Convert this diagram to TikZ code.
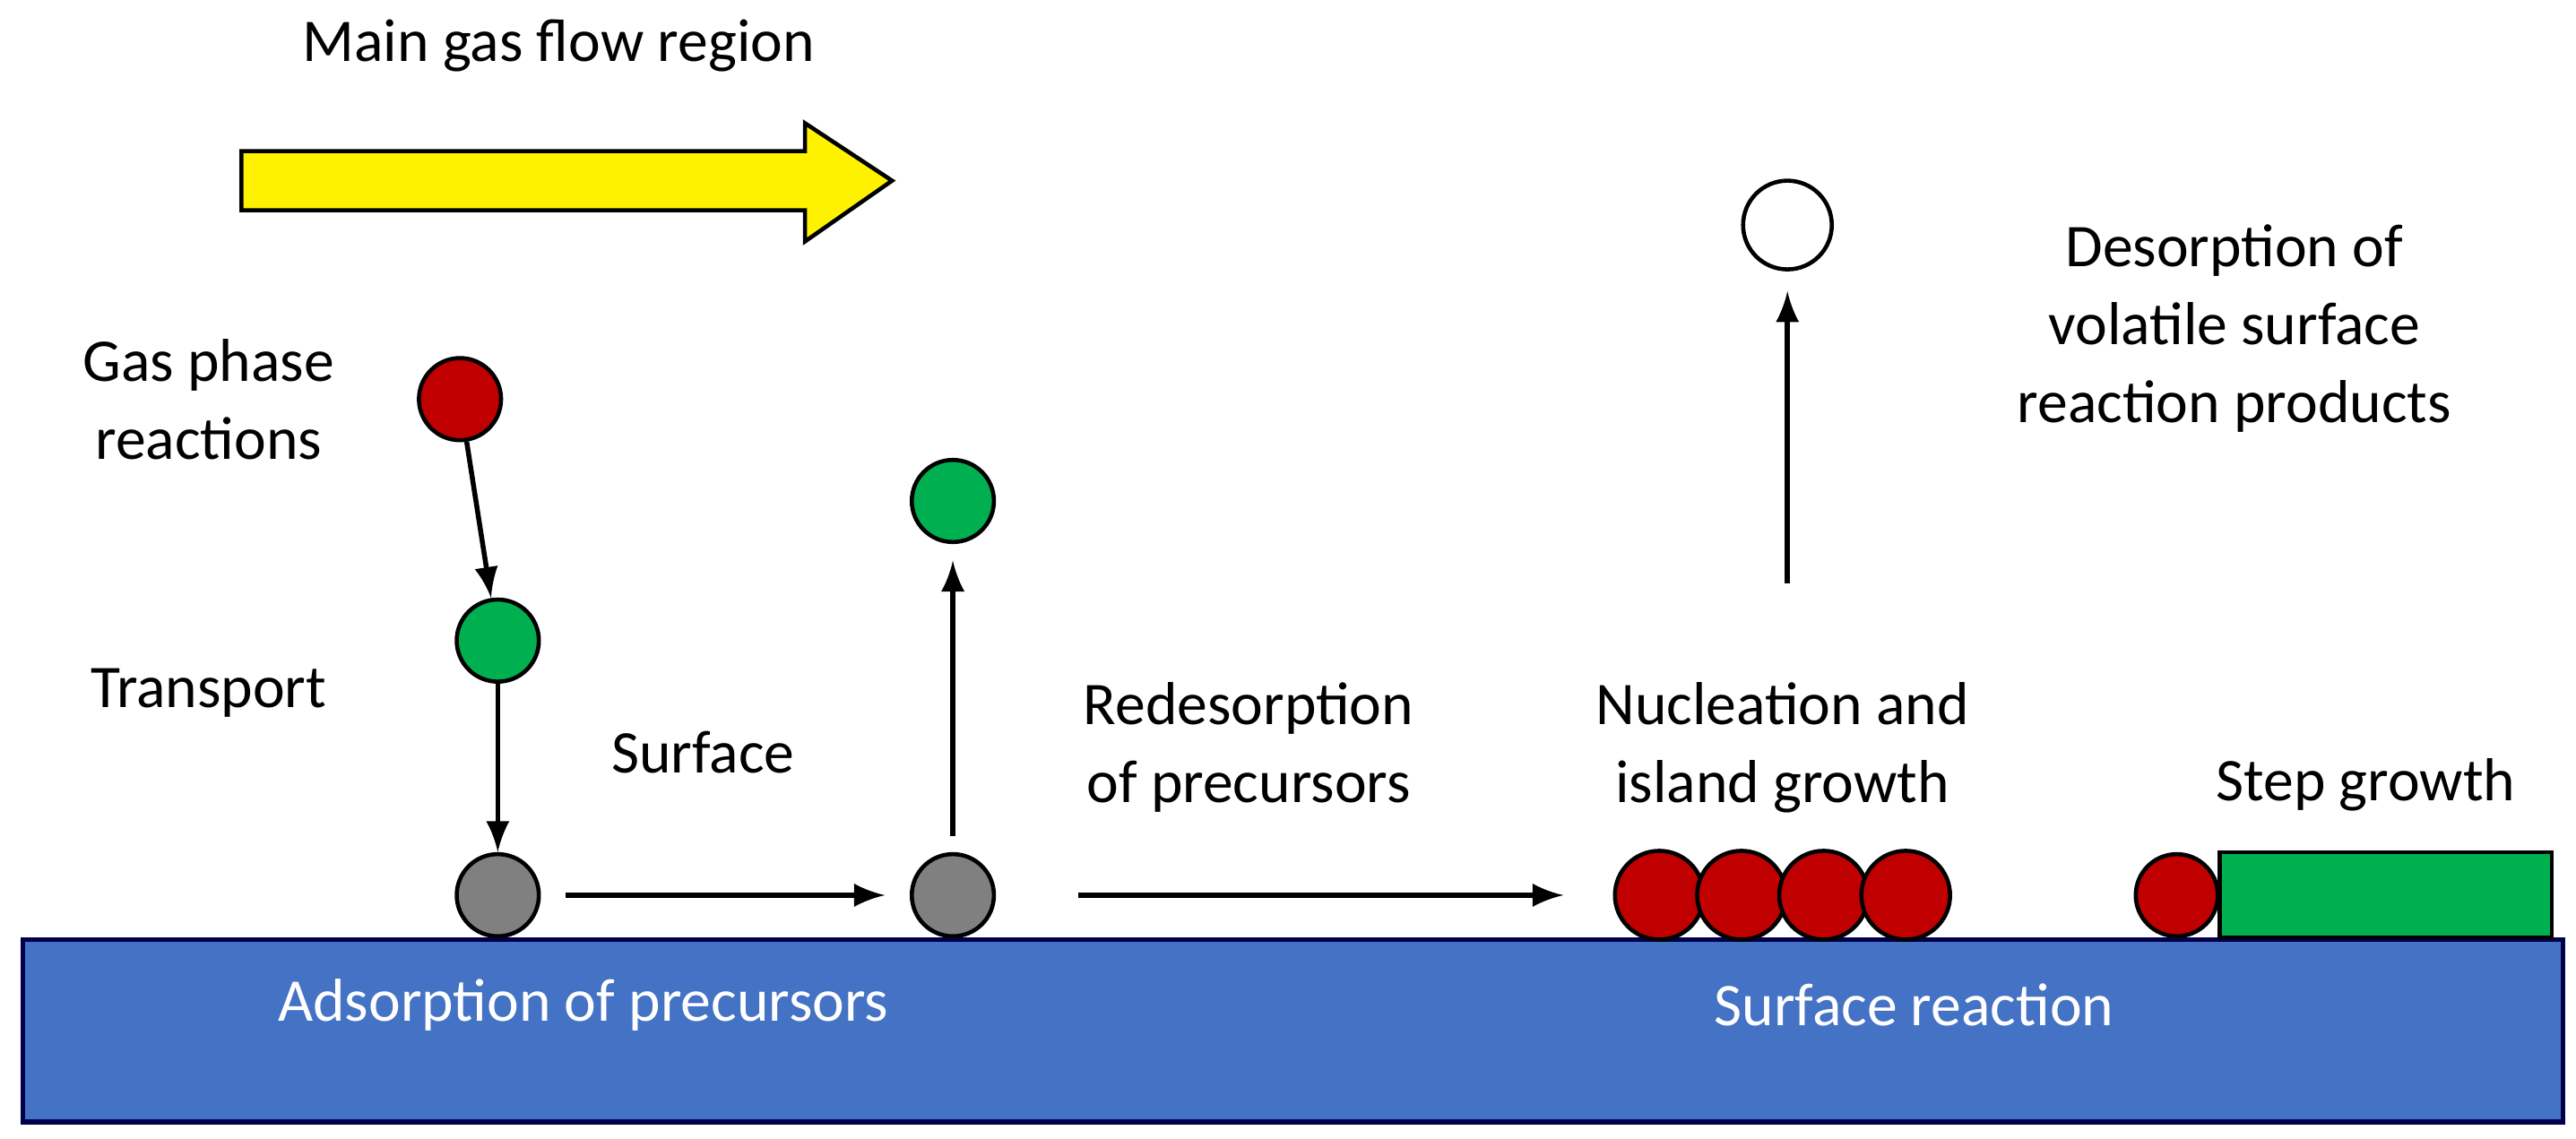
\documentclass[tikz,border=0pt]{standalone}
\usepackage{fontspec}
\setmainfont{Carlito}
\usepackage{tikz}

\definecolor{gasred}{RGB}{192,0,0}
\definecolor{gasgreen}{RGB}{0,176,80}
\definecolor{subblue}{RGB}{68,114,196}
\tikzset{
  ball/.style={circle,draw=black,line width=.25mm,minimum size=5mm,inner sep=0pt},
  lbl/.style={align=center,font=\fontsize{10.5}{13.5}\selectfont},
  flowarrow/.style={line width=.3mm,-latex}
}

\begin{document}
\begin{tikzpicture}[y=-1cm]
\useasboundingbox (0,0) rectangle (15.68,6.93);
% substrate
\draw[fill=subblue,draw=black!70!blue,line width=.3mm] (0.14,5.72) rectangle (15.60,6.83);
\node[lbl,text=white] (ads) at (3.55,6.12) {Adsorption of precursors};
\node[lbl,text=white] (srf) at (11.65,6.12) {Surface reaction};
% gas flow
\node[lbl] (flow) at (3.40,0.28) {Main gas flow region};
\draw[fill=yellow,line width=.25mm] (1.47,0.92) -- (4.90,0.92) -- (4.90,0.75) -- (5.43,1.10)
  -- (4.90,1.47) -- (4.90,1.28) -- (1.47,1.28) -- cycle;
% gas phase
\node[ball,fill=gasred] (r1) at (2.80,2.43) {};
\node[ball,fill=gasgreen] (g1) at (3.03,3.90) {};
\node[ball,fill=gray] (a1) at (3.03,5.45) {};
\node[ball,fill=gray] (a2) at (5.80,5.45) {};
\node[ball,fill=gasgreen] (g2) at (5.80,3.05) {};
\draw[flowarrow] (r1) -- (g1);
\draw[flowarrow] (g1) -- (a1);
\draw[flowarrow,shorten <=1.5mm,shorten >=1.5mm] (a1) -- (a2);
\draw[flowarrow,shorten <=1mm,shorten >=1mm] (a2) -- (g2);
\node[lbl] (gpr) at (1.27,2.43) {Gas phase\\reactions};
\node[lbl] (trp) at (1.27,4.22) {Transport};
\node[lbl] (sfd) at (4.28,4.58) {Surface};
\node[lbl] (red) at (7.60,4.55) {Redesorption\\of precursors};
% nucleation
\foreach \x [count=\i] in {10.10,10.60,11.10,11.60}
  \node[ball,fill=gasred,minimum size=5.4mm] (n\i) at (\x,5.45) {};
\draw[flowarrow,shorten <=5mm,shorten >=3mm] (a2) -- (n1);
\node[lbl] (nuc) at (10.85,4.55) {Nucleation and\\island growth};
% desorption
\node[ball,fill=white,minimum size=5.4mm] (w1) at (10.88,1.37) {};
\coordinate (w0) at (10.88,3.55);
\draw[flowarrow,shorten >=1.2mm] (w0) -- (w1);
\node[lbl] (des) at (13.60,2.00) {Desorption of\\volatile surface\\reaction products};
% step growth
\node[draw=black,fill=gasgreen,line width=.25mm,minimum width=2.02cm,minimum height=5.2mm,
  inner sep=0pt,anchor=south west] (stp) at (13.50,5.72) {};
\node[ball,fill=gasred] (s1) at (13.25,5.45) {};
\node[lbl] (sgr) at (14.40,4.78) {Step growth};
\end{tikzpicture}
\end{document}
